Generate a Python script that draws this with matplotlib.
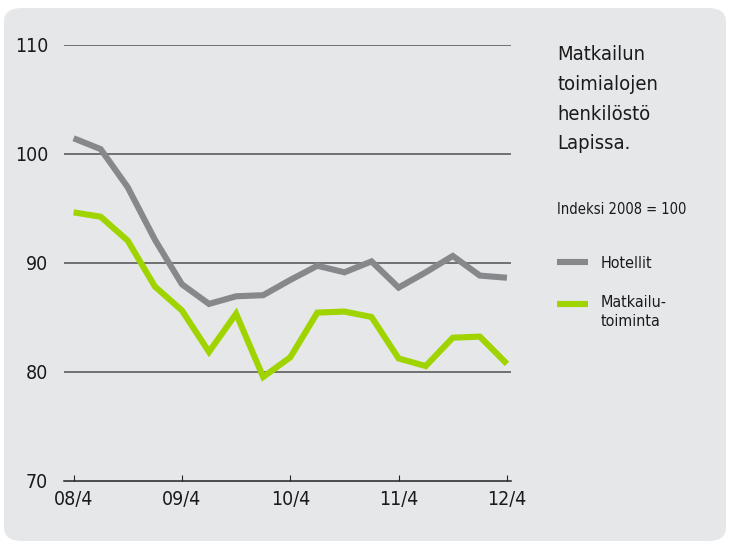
"""
Matkailun toimialojen henkilöstö Lapissa, indeksi 2008 = 100.
"""

import numpy as np
import matplotlib.pyplot as plt
from matplotlib.patches import FancyBboxPatch

quarters = ["08/4", "09/1", "09/2", "09/3", "09/4", "10/1", "10/2", "10/3", "10/4",
            "11/1", "11/2", "11/3", "11/4", "12/1", "12/2", "12/3", "12/4"]
hotellit = [101.4, 100.4, 96.9, 92.1, 88.0, 86.2, 86.9, 87.0, 88.4,
            89.7, 89.1, 90.1, 87.7, 89.1, 90.6, 88.8, 88.6]
matkailutoiminta = [94.6, 94.2, 92.0, 87.8, 85.6, 81.8, 85.3, 79.5, 81.3,
                    85.4, 85.5, 85.0, 81.2, 80.5, 83.1, 83.2, 80.7]
y_ticks = [70, 80, 90, 100, 110]
x_tick_labels = ["08/4", "09/4", "10/4", "11/4", "12/4"]

GRAY = "#86888b"
GREEN = "#9fd400"
PANEL = "#e6e7e9"
TEXT = "#1a1a1a"

plt.rcParams["font.family"] = ["DejaVu Sans"]
plt.rcParams["font.stretch"] = "condensed"

fig = plt.figure(figsize=(7.3, 5.44), dpi=100)
fig.patch.set_facecolor("white")
panel = FancyBboxPatch((4 / 730, 3 / 544), 722 / 730, 533 / 544,
                       boxstyle="round,pad=0,rounding_size=0.025",
                       transform=fig.transFigure, facecolor=PANEL,
                       edgecolor="none", zorder=-5)
fig.patches.append(panel)

ax = fig.add_axes([64 / 730, 1 - 480.5 / 544, (511 - 64) / 730, (480.5 - 44.5) / 544])
ax.set_facecolor("none")
ax.set_zorder(2)

x = np.arange(len(quarters))
ax.set_xlim(-0.354, 16.15)
ax.set_ylim(70, 110)

for v in y_ticks[1:]:
    ax.axhline(v, color="#505050", lw=1.1, zorder=1)

ax.plot(x, hotellit, color=GRAY, lw=4.4, solid_joinstyle="miter",
        solid_capstyle="butt", zorder=3)
ax.plot(x, matkailutoiminta, color=GREEN, lw=4.4, solid_joinstyle="miter",
        solid_capstyle="butt", zorder=3)

for side in ["top", "right", "left"]:
    ax.spines[side].set_visible(False)
ax.spines["bottom"].set_color("#222222")
ax.spines["bottom"].set_linewidth(1.1)

ax.set_yticks(y_ticks)
ax.set_yticklabels([str(v) for v in y_ticks])
ax.tick_params(axis="y", length=0, pad=11.5, labelsize=14, colors=TEXT)

ax.set_xticks([0, 4, 8, 12, 16])
ax.set_xticklabels(x_tick_labels)
ax.tick_params(axis="x", direction="in", length=4, width=0.8, color="#222222",
               pad=7, labelsize=14, labelcolor=TEXT)

# otsikko ja selite oikealla
fig.text(557 / 730, 1 - 45 / 544, "Matkailun\ntoimialojen\nhenkilöstö\nLapissa.",
         fontsize=14.5, color=TEXT, va="top", ha="left", linespacing=1.72)
fig.text(557 / 730, 1 - 210 / 544, "Indeksi 2008 = 100",
         fontsize=10.5, color=TEXT, va="center", ha="left")

fig.add_artist(plt.Line2D([557 / 730, 588 / 730], [1 - 262 / 544] * 2,
                          color=GRAY, lw=4.4, solid_capstyle="butt",
                          transform=fig.transFigure))
fig.text(601 / 730, 1 - 263 / 544, "Hotellit",
         fontsize=11.5, color=TEXT, va="center", ha="left")
fig.add_artist(plt.Line2D([557 / 730, 588 / 730], [1 - 304 / 544] * 2,
                          color=GREEN, lw=4.4, solid_capstyle="butt",
                          transform=fig.transFigure))
fig.text(601 / 730, 1 - 295 / 544, "Matkailu-\ntoiminta",
         fontsize=11.5, color=TEXT, va="top", ha="left", linespacing=1.35)

fig.savefig("out.png", dpi=100)
